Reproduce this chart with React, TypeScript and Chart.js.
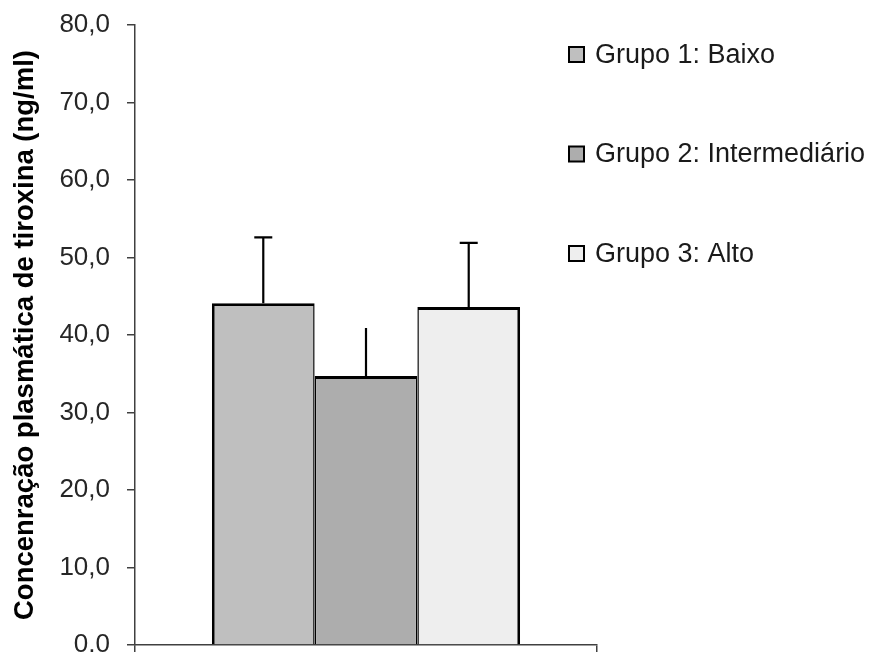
import React, { useEffect, useRef } from "react";
import { Chart, registerables } from "chart.js";

Chart.register(...registerables);

const categories = [""];
const groupLabels = ["Grupo 1: Baixo", "Grupo 2: Intermediário", "Grupo 3: Alto"];
const means = [44.1, 34.7, 43.6];
const sdUpper = [8.5, 6.2, 8.3];
const showCap = [true, false, true];
const fills = ["#bfbfbf", "#adadad", "#eeeeee"];
const yMin = 0;
const yMax = 80;
const yStep = 10;
const yTitle = "Concenração plasmática de tiroxina (ng/ml)";

const FONT = "'Liberation Sans', Arial, sans-serif";

const errorBarPlugin = {
  id: "errorBars",
  afterDatasetsDraw(chart: any) {
    const ctx = chart.ctx;
    const y = chart.scales.y;
    ctx.save();
    ctx.strokeStyle = "#000";
    ctx.lineWidth = 2.2;
    chart.data.datasets.forEach((ds: any, i: number) => {
      const meta = chart.getDatasetMeta(i);
      meta.data.forEach((bar: any, j: number) => {
        const top = y.getPixelForValue(ds.data[j] + sdUpper[i]);
        ctx.beginPath();
        ctx.moveTo(bar.x, bar.y);
        ctx.lineTo(bar.x, top);
        if (showCap[i]) {
          ctx.moveTo(bar.x - 9, top);
          ctx.lineTo(bar.x + 9, top);
        }
        ctx.stroke();
      });
    });
    ctx.restore();
  },
};

const legendPlugin = {
  id: "customLegend",
  afterDraw(chart: any) {
    const ctx = chart.ctx;
    const x0 = chart.chartArea.right - 28;
    ctx.save();
    ctx.font = `27px ${FONT}`;
    ctx.textBaseline = "middle";
    ctx.textAlign = "left";
    chart.data.datasets.forEach((ds: any, i: number) => {
      const cy = 54.5 + i * 99.5;
      ctx.fillStyle = ds.backgroundColor;
      ctx.fillRect(x0, cy - 7.5, 15, 15);
      ctx.strokeStyle = "#000";
      ctx.lineWidth = 2;
      ctx.strokeRect(x0, cy - 7.5, 15, 15);
      ctx.fillStyle = "#1a1a1a";
      ctx.fillText(ds.label, x0 + 26, cy + 1);
    });
    ctx.restore();
  },
};

export default function App() {
  const ref = useRef<HTMLCanvasElement | null>(null);

  useEffect(() => {
    if (!ref.current) return;
    const n = groupLabels.length;
    const chart = new Chart(ref.current, {
      type: "bar",
      data: {
        labels: categories,
        datasets: groupLabels.map((label, i) => ({
          label,
          data: [means[i]],
          backgroundColor: fills[i],
          borderColor: "#000",
          borderWidth: {
            top: 2.8,
            bottom: 0,
            left: i === 0 ? 2.8 : 1.5,
            right: i === n - 1 ? 2.8 : 1.5,
          },
          borderSkipped: "start",
          categoryPercentage: 0.667,
          barPercentage: 1,
        })),
      },
      options: {
        responsive: false,
        animation: false,
        layout: { padding: { top: 25, right: 283, bottom: 0, left: 0 } },
        plugins: {
          legend: { display: false },
          tooltip: { enabled: false },
        },
        scales: {
          x: {
            type: "category",
            offset: true,
            grid: {
              offset: true,
              drawOnChartArea: false,
              drawTicks: true,
              tickLength: 7,
              color: "#404040",
              lineWidth: 1.5,
            },
            border: { display: true, color: "#404040", width: 1.5 },
            ticks: { display: false },
            afterFit: (s: any) => {
              s.height = 7;
              s.paddingLeft = 0;
              s.paddingRight = 0;
            },
          },
          y: {
            min: yMin,
            max: yMax,
            ticks: {
              stepSize: yStep,
              padding: 17,
              color: "#262626",
              font: { family: FONT, size: 26 },
              callback: (v: any) => Number(v).toFixed(1).replace(".", ","),
            },
            grid: {
              drawOnChartArea: false,
              tickLength: 8,
              color: "#404040",
              lineWidth: 1.5,
            },
            border: { display: true, color: "#404040", width: 1.5 },
            title: {
              display: true,
              text: yTitle,
              color: "#000",
              font: { family: FONT, size: 27.5, weight: "bold" },
              padding: { top: 9, bottom: 0 },
            },
            afterFit: (s: any) => {
              s.width = 135;
              s.paddingTop = 0;
              s.paddingBottom = 0;
            },
          },
        },
      },
      plugins: [errorBarPlugin, legendPlugin],
    } as any);
    return () => chart.destroy();
  }, []);

  return (
    <div style={{ position: "fixed", left: 0, top: 0, width: 880, height: 652, background: "#fff" }}>
      <canvas ref={ref} width={880} height={652} style={{ display: "block" }} />
    </div>
  );
}
